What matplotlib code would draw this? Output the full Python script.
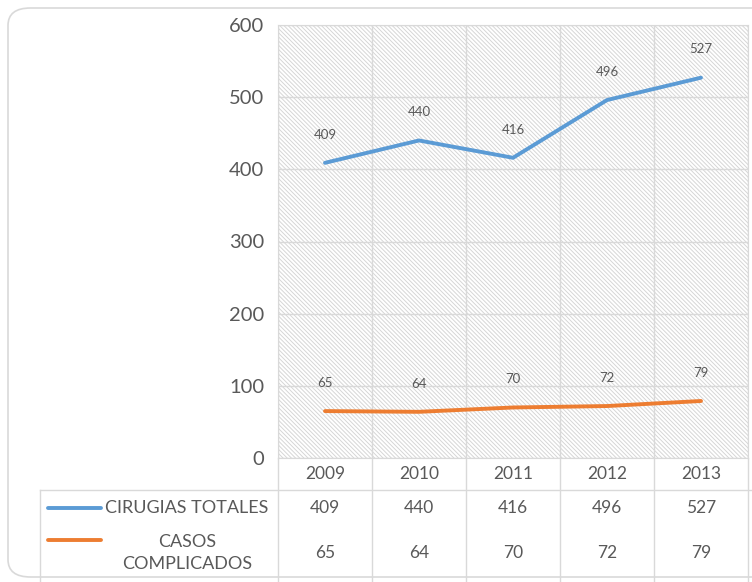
import matplotlib.pyplot as plt
from matplotlib.patches import Rectangle, FancyBboxPatch
from matplotlib.lines import Line2D

# data
years = ['2009', '2010', '2011', '2012', '2013']
cirugias = [409, 440, 416, 496, 527]
casos = [65, 64, 70, 72, 79]
series_names = ['CIRUGIAS TOTALES', 'CASOS\nCOMPLICADOS']
colors = ['#5B9BD5', '#ED7D31']

plt.rcParams['font.family'] = ['Lato', 'DejaVu Sans']
plt.rcParams['hatch.color'] = '#d6d6d6'
plt.rcParams['hatch.linewidth'] = 0.7
txt = '#595959'
grid = '#d9d9d9'

fig = plt.figure(figsize=(7.52, 5.82), dpi=100)
W, H = 752, 582

# rounded chart border
fig.patches.append(FancyBboxPatch((8 / W, 5 / H), 1.2, (H - 13) / H, transform=fig.transFigure,
                                  boxstyle='round,pad=0,rounding_size=0.03',
                                  fc='none', ec=grid, lw=1.2, zorder=-1))

ax = fig.add_axes([278 / W, (H - 458) / H, 470 / W, 433 / H])
ax.patch.set_alpha(0)
ax.add_patch(Rectangle((0, 0), 1, 1, transform=ax.transAxes, fc='white',
                       ec='#d6d6d6', hatch='\\' * 8, lw=0, zorder=0))

x = list(range(len(years)))
for vals, c in zip([cirugias, casos], colors):
    ax.plot(x, vals, color=c, lw=2.8, solid_capstyle='round', zorder=3)
    for xi, v in zip(x, vals):
        ax.annotate(str(v), (xi, v), xytext=(0, 16), textcoords='offset points',
                    ha='center', va='bottom', fontsize=9.5, color=txt)

ax.set_xlim(-0.5, 4.5)
ax.set_ylim(0, 600)
ax.set_yticks(range(0, 601, 100))
ax.set_xticks([])
ax.set_xticks([i + 0.5 for i in range(-1, 5)], minor=True)
ax.grid(True, which='major', axis='y', color=grid, lw=1)
ax.grid(True, which='minor', axis='x', color=grid, lw=1)
ax.tick_params(axis='y', length=0, pad=10, labelsize=14.5, labelcolor=txt)
ax.tick_params(axis='x', which='both', length=0)
for s in ax.spines.values():
    s.set_color(grid)
ax.set_axisbelow(True)

# data table below the plot
tx = ax.get_xaxis_transform()
ta = ax.transAxes
y_head, y_r1, y_r2 = -0.037, -0.115, -0.219
y_line, y_bot = -0.0739, -0.29
for i, yr in enumerate(years):
    ax.text(i, y_head, yr, transform=tx, ha='center', va='center', fontsize=12.5, color=txt)
    ax.text(i, y_r1, str(cirugias[i]), transform=tx, ha='center', va='center', fontsize=12.5, color=txt)
    ax.text(i, y_r2, str(casos[i]), transform=tx, ha='center', va='center', fontsize=12.5, color=txt)
for b in [i + 0.5 for i in range(-1, 5)]:
    ax.add_line(Line2D([b, b], [0, y_bot], transform=tx, color=grid, lw=1, clip_on=False))
ax.add_line(Line2D([-0.506, 1.02], [y_line, y_line], transform=ta, color=grid, lw=1, clip_on=False))
ax.add_line(Line2D([-0.506, -0.506], [y_line, y_bot], transform=ta, color=grid, lw=1, clip_on=False))

key_y = [y_r1, y_r2 + 0.03]
for yy, ky, name, c in zip([y_r1, y_r2], key_y, series_names, colors):
    ax.add_line(Line2D([-0.489, -0.376], [ky, ky], transform=ta, color=c, lw=2.8,
                       solid_capstyle='round', clip_on=False))
    ax.text(-0.194, yy, name, transform=ta, ha='center', va='center', fontsize=13,
            color=txt, linespacing=1.45)

fig.savefig('out.png', dpi=100)
